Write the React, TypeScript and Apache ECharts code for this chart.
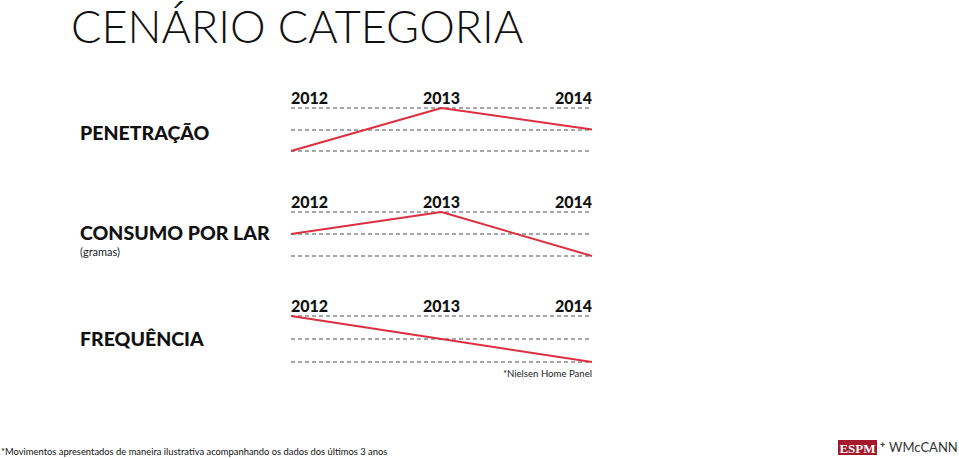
import React, { useEffect, useRef } from "react";
import * as echarts from "echarts";

const years = ["2012", "2013", "2014"];
const penetracao = [0, 2, 1];
const consumo = [1, 2, 0];
const frequencia = [2, 1, 0];
const rowLabels = ["PENETRAÇÃO", "CONSUMO POR LAR", "FREQUÊNCIA"];
const levels = [0, 1, 2];

const RED = "#dc2f3f";
const FONT = "Lato, 'Noto Sans', sans-serif";

export default function App() {
  const ref = useRef<HTMLDivElement>(null);
  useEffect(() => {
    if (!ref.current) return;
    const chart = echarts.init(ref.current, undefined, { renderer: "svg" });
    const grids = [
      { left: 291, right: 367, top: 108, height: 43 },
      { left: 291, right: 367, top: 212, height: 44 },
      { left: 291, right: 367, top: 316, height: 46 },
    ];
    const seriesData = [penetracao, consumo, frequencia];
    const rowText = (text: string, y: number) => ({
      type: "text",
      x: 80,
      y,
      style: {
        text,
        fontFamily: FONT,
        fontWeight: 900,
        fontSize: 19.5,
        fill: "#111",
        verticalAlign: "middle",
      },
    });
    const option: any = {
      animation: false,
      backgroundColor: "#ffffff",
      grid: grids,
      xAxis: grids.map((_, i) => ({
        type: "category",
        gridIndex: i,
        data: years,
        boundaryGap: false,
        position: "top",
        axisLine: { show: false },
        axisTick: { show: false },
        splitLine: { show: false },
        axisLabel: {
          show: true,
          interval: 0,
          margin: 3,
          color: "#111",
          fontFamily: FONT,
          fontWeight: 900,
          fontSize: 16,
          alignMinLabel: "left",
          alignMaxLabel: "right",
        },
      })),
      yAxis: grids.map((_, i) => ({
        type: "value",
        gridIndex: i,
        min: levels[0],
        max: levels[levels.length - 1],
        interval: 1,
        axisLine: { show: false },
        axisTick: { show: false },
        axisLabel: { show: false },
        splitLine: {
          show: true,
          lineStyle: { color: "#8a8a8a", width: 1.5, type: [4, 3] },
        },
      })),
      series: seriesData.map((d, i) => ({
        type: "line",
        xAxisIndex: i,
        yAxisIndex: i,
        data: d,
        symbol: "none",
        lineStyle: { color: RED, width: 2 },
        z: 5,
      })),
      graphic: [
        {
          type: "text",
          x: 71,
          y: 3,
          style: {
            text: "CENÁRIO CATEGORIA",
            fontFamily: FONT,
            fontWeight: 300,
            fontSize: 45,
            fill: "#111",
          },
        },
        rowText(rowLabels[0], 132),
        rowText(rowLabels[1], 232),
        {
          type: "text",
          x: 80,
          y: 251,
          style: {
            text: "(gramas)",
            fontFamily: FONT,
            fontSize: 11,
            fill: "#222",
            verticalAlign: "middle",
          },
        },
        rowText(rowLabels[2], 338),
        {
          type: "text",
          x: 592,
          y: 373,
          style: {
            text: "*Nielsen Home Panel",
            fontFamily: FONT,
            fontSize: 9.6,
            fill: "#222",
            align: "right",
            verticalAlign: "middle",
          },
        },
        {
          type: "text",
          x: 1,
          y: 451,
          style: {
            text: "*Movimentos apresentados de maneira ilustrativa acompanhando os dados dos últimos 3 anos",
            fontFamily: FONT,
            fontSize: 9.4,
            fill: "#111",
            verticalAlign: "middle",
          },
        },
        {
          type: "rect",
          shape: { x: 838, y: 440, width: 39, height: 15 },
          style: { fill: "#a3192b" },
        },
        {
          type: "text",
          x: 857.5,
          y: 448,
          style: {
            text: "ESPM",
            fontFamily: "'Liberation Serif', serif",
            fontWeight: "bold",
            fontSize: 13,
            fill: "#ffffff",
            align: "center",
            verticalAlign: "middle",
          },
        },
        {
          type: "text",
          x: 882.5,
          y: 444,
          style: {
            text: "+",
            fontFamily: FONT,
            fontWeight: 900,
            fontSize: 9,
            fill: "#333",
            align: "center",
            verticalAlign: "middle",
          },
        },
        {
          type: "text",
          x: 889,
          y: 447,
          style: {
            text: "WMcCANN",
            fontFamily: FONT,
            fontSize: 13,
            fill: "#333",
            verticalAlign: "middle",
          },
        },
      ],
    };
    chart.setOption(option);
    return () => chart.dispose();
  }, []);
  return (
    <div
      ref={ref}
      style={{ position: "fixed", left: 0, top: 0, width: 959, height: 458 }}
    />
  );
}
